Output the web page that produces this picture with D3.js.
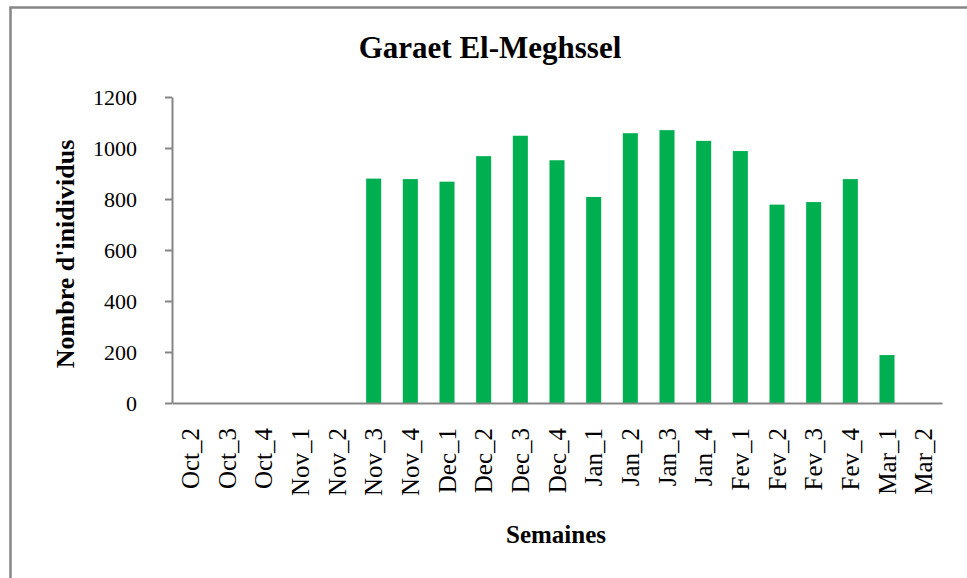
<!DOCTYPE html>
<html>
<head>
<meta charset="utf-8">
<script src="https://cdn.jsdelivr.net/npm/d3@7"></script>
<style>
  body { margin: 0; background: #fff; }
  svg { display: block; font-family: "Liberation Serif", "Times New Roman", serif; }
  .y-axis path, .y-axis line, .x-axis path { stroke: #868686; stroke-width: 2; }
  .x-axis line { display: none; }
</style>
</head>
<body>
<svg id="chart" width="967" height="578"></svg>
<script>
// weeks (x categories)
var weeks = ["Oct_2", "Oct_3", "Oct_4", "Nov_1", "Nov_2", "Nov_3", "Nov_4",
    "Dec_1", "Dec_2", "Dec_3", "Dec_4", "Jan_1", "Jan_2", "Jan_3", "Jan_4",
    "Fev_1", "Fev_2", "Fev_3", "Fev_4", "Mar_1", "Mar_2"];
// number of individuals per week
var counts = [0, 0, 0, 0, 0, 880, 878, 868, 968, 1048, 952, 808, 1058, 1070, 1028,
    988, 778, 788, 878, 188, 0];
var yTicks = [0, 200, 400, 600, 800, 1000, 1200];

var serif = '"Liberation Serif", "Times New Roman", serif';
var svg = d3.select("#chart");

var margin = { top: 97, right: 25, bottom: 175, left: 172 }
    , width = svg.attr("width") - margin.left - margin.right
    , height = svg.attr("height") - margin.top - margin.bottom;

// outer frame (cut by the picture on the right and bottom)
svg.append("rect")
    .attr("x", 10.5)
    .attr("y", 7.5)
    .attr("width", 980)
    .attr("height", 600)
    .attr("fill", "none")
    .attr("stroke", "#868686")
    .attr("stroke-width", 2.5);

var xScale = d3.scaleBand()
    .domain(weeks)
    .range([0, width])
    .paddingInner(0.59)
    .paddingOuter(0.295);

var yScale = d3.scaleLinear()
    .domain([0, 1200])
    .range([height, 0]);

var g = svg.append("g")
    .attr("transform", `translate(${margin.left},${margin.top})`);

// bars
g.selectAll(".bar")
    .data(counts)
    .enter()
    .append("rect")
    .classed("bar", true)
    .attr("x", (d, i) => xScale(weeks[i]))
    .attr("y", d => yScale(d))
    .attr("width", xScale.bandwidth())
    .attr("height", d => height - yScale(d))
    .attr("fill", "#00B050");

// y axis
var yAxis = g.append("g")
    .classed("y-axis", true)
    .call(d3.axisLeft(yScale).tickValues(yTicks).tickFormat(d3.format("d"))
        .tickSize(7).tickSizeOuter(0).tickPadding(28));
yAxis.attr("font-family", serif).attr("font-size", 22);
yAxis.selectAll("text").attr("fill", "#000");

// x axis
var xAxis = g.append("g")
    .classed("x-axis", true)
    .attr("transform", "translate(0," + height + ")")
    .call(d3.axisBottom(xScale).tickSize(0).tickSizeOuter(0));
xAxis.attr("font-family", serif).attr("font-size", 25);
xAxis.selectAll("text")
    .attr("fill", "#000")
    .attr("transform", "rotate(-90)")
    .attr("x", -25)
    .attr("y", 0)
    .attr("dy", "0.35em")
    .style("text-anchor", "end");

// title
svg.append("text")
    .attr("x", 490)
    .attr("y", 58)
    .style("text-anchor", "middle")
    .style("font-size", "31px")
    .style("font-weight", "bold")
    .text("Garaet El-Meghssel");

// axis titles
svg.append("text")
    .attr("transform", "translate(74,254) rotate(-90)")
    .style("text-anchor", "middle")
    .style("font-size", "26px")
    .style("font-weight", "bold")
    .text("Nombre d'inidividus");

svg.append("text")
    .attr("x", 556)
    .attr("y", 543)
    .style("text-anchor", "middle")
    .style("font-size", "25px")
    .style("font-weight", "bold")
    .text("Semaines");
</script>
</body>
</html>
